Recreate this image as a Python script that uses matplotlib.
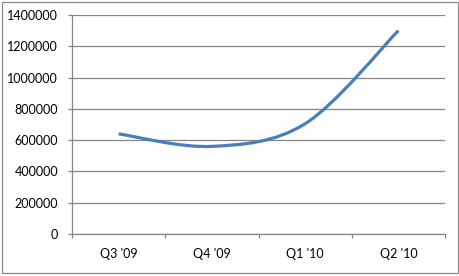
import numpy as np
import matplotlib
matplotlib.use('Agg')
import matplotlib.pyplot as plt
from matplotlib.path import Path
from matplotlib.patches import PathPatch, Rectangle

l_sQuarters = ["Q3 '09", "Q4 '09", "Q1 '10", "Q2 '10"]
l_dValues = [640000, 560000, 705000, 1300000]
l_iYTicks = [0, 200000, 400000, 600000, 800000, 1000000, 1200000, 1400000]


def smooth_path(xs, ys):
    # Excel-style smoothed line: Catmull-Rom segments as cubic Beziers
    pts = np.column_stack([xs, ys]).astype(float)
    n = len(pts)
    verts = [pts[0]]
    codes = [Path.MOVETO]
    for i in range(n - 1):
        p0 = pts[i - 1] if i > 0 else pts[i]
        p1 = pts[i]
        p2 = pts[i + 1]
        p3 = pts[i + 2] if i + 2 < n else pts[i + 1]
        c1 = p1 + (p2 - p0) / 6.0
        c2 = p2 - (p3 - p1) / 6.0
        verts += [c1, c2, p2]
        codes += [Path.CURVE4] * 3
    return Path(verts, codes)


if __name__ == '__main__':
    plt.rcParams['font.family'] = ['Lato', 'DejaVu Sans']
    fig = plt.figure(figsize=(4.6, 2.76), dpi=100)
    fig.patches.append(Rectangle((2 / 460, 3 / 276), 456 / 460, 271 / 276, transform=fig.transFigure,
                                 fill=False, edgecolor='#8c8c8c', linewidth=0.9))
    ax = fig.add_axes([72 / 460, 1 - 234 / 276, 373 / 460, 219 / 276])

    x = np.arange(len(l_sQuarters))
    ax.add_patch(PathPatch(smooth_path(x, l_dValues), fill=False, edgecolor='#4a7ebb',
                           linewidth=2.3, capstyle='butt'))

    ax.set_xlim(-0.5, len(l_sQuarters) - 0.5)
    ax.set_ylim(0, 1400000)
    ax.set_yticks(l_iYTicks)
    ax.set_yticklabels([str(v) for v in l_iYTicks], fontsize=9)
    ax.set_xticks(np.arange(-0.5, len(l_sQuarters), 1.0))
    ax.set_xticklabels([])
    ax.set_xticks(x, minor=True)
    ax.set_xticklabels(l_sQuarters, minor=True, fontsize=9)
    ax.tick_params(axis='x', which='minor', length=0, pad=10)
    ax.tick_params(axis='both', which='major', length=3, color='#868686', width=0.9)
    ax.tick_params(axis='y', pad=7)
    ax.grid(axis='y', color='#868686', linewidth=0.9)
    ax.set_axisbelow(True)
    for s in ['top', 'right']:
        ax.spines[s].set_visible(False)
    for s in ['left', 'bottom']:
        ax.spines[s].set_color('#868686')
        ax.spines[s].set_linewidth(0.9)

    fig.savefig('out.png', dpi=100)
